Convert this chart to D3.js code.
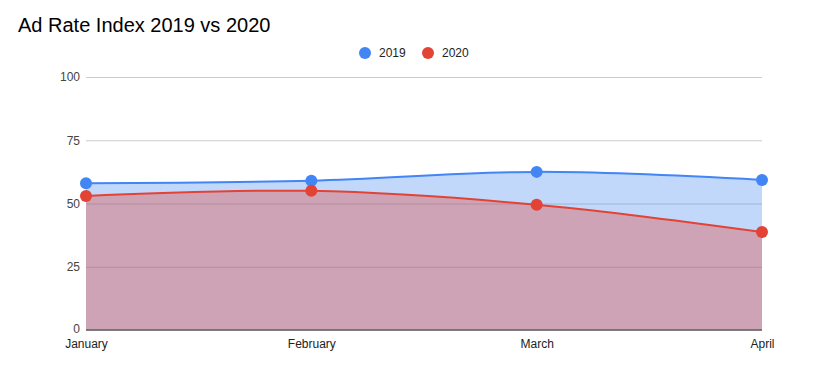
<html>
<head>
<meta charset="utf-8">
<style>
  body { margin: 0; background: #fff; }
  text { font-family: Arial, "Liberation Sans", sans-serif; }
</style>
<script src="https://cdnjs.cloudflare.com/ajax/libs/d3/7.8.5/d3.min.js"></script>
</head>
<body>
<svg id="chart" width="828" height="367"></svg>
<script>
let width = 828,
	height = 367;

let months = ["January", "February", "March", "April"];
let values2019 = [58, 59, 62.5, 59.3];
let values2020 = [53, 55, 49.5, 38.7];
let yTicks = [0, 25, 50, 75, 100];

let series = [
	{ name: "2019", color: "#4285f4", opacity: 0.32, values: values2019 },
	{ name: "2020", color: "#e24335", opacity: 0.35, values: values2020 }
];

let margin = { top: 77, right: 66, bottom: 37, left: 86 };

let x = d3.scalePoint().domain(months).range([margin.left, width - margin.right]);
let y = d3.scaleLinear().domain([0, 100]).range([height - margin.bottom, margin.top]);

let svg = d3.select("#chart");

// title
svg.append("text")
	.attr("x", 18).attr("y", 32)
	.attr("font-size", 20)
	.attr("fill", "#000")
	.text("Ad Rate Index 2019 vs 2020");

// gridlines + y labels
let yAxis = d3.axisLeft(y).tickValues(yTicks).tickSize(-(width - margin.left - margin.right)).tickPadding(6);
let gy = svg.append("g").attr("transform", `translate(${margin.left},0)`).call(yAxis);
gy.select(".domain").remove();
gy.selectAll(".tick line").attr("stroke", "#cccccc");
gy.selectAll(".tick text").attr("font-size", 12).attr("fill", "#444").attr("font-family", "Arial, sans-serif")
	.attr("dy", d => d === 0 ? "0.2em" : "0.32em");

let curve = d3.curveCatmullRom.alpha(0.5);

let area = d3.area()
	.x((d, i) => x(months[i]))
	.y0(y(0))
	.y1(d => y(d))
	.curve(curve);

let line = d3.line()
	.x((d, i) => x(months[i]))
	.y(d => y(d))
	.curve(curve);

series.forEach(s => {
	svg.append("path")
		.datum(s.values)
		.attr("d", area)
		.attr("fill", s.color)
		.attr("fill-opacity", s.opacity);
});

series.forEach(s => {
	svg.append("path")
		.datum(s.values)
		.attr("d", line)
		.attr("fill", "none")
		.attr("stroke", s.color)
		.attr("stroke-width", 2);
});

// baseline
svg.append("line")
	.attr("x1", margin.left).attr("x2", width - margin.right)
	.attr("y1", y(0)).attr("y2", y(0))
	.attr("stroke", "#333").attr("stroke-width", 1);

series.forEach(s => {
	svg.append("g").selectAll("circle")
		.data(s.values)
		.join("circle")
		.attr("cx", (d, i) => x(months[i]))
		.attr("cy", d => y(d))
		.attr("r", 6)
		.attr("fill", s.color);
});

// x labels
let xAxis = d3.axisBottom(x).tickSize(0).tickPadding(9);
let gx = svg.append("g").attr("transform", `translate(0,${y(0)})`).call(xAxis);
gx.select(".domain").remove();
gx.selectAll(".tick text").attr("font-size", 12).attr("fill", "#222").attr("font-family", "Arial, sans-serif");

// legend
let legendX = [365, 428];
let legend = svg.append("g");
series.forEach((s, i) => {
	legend.append("circle").attr("cx", legendX[i]).attr("cy", 53).attr("r", 6).attr("fill", s.color);
	legend.append("text").attr("x", legendX[i] + 14).attr("y", 57)
		.attr("font-size", 12).attr("fill", "#222").text(s.name);
});
</script>
</body>
</html>
